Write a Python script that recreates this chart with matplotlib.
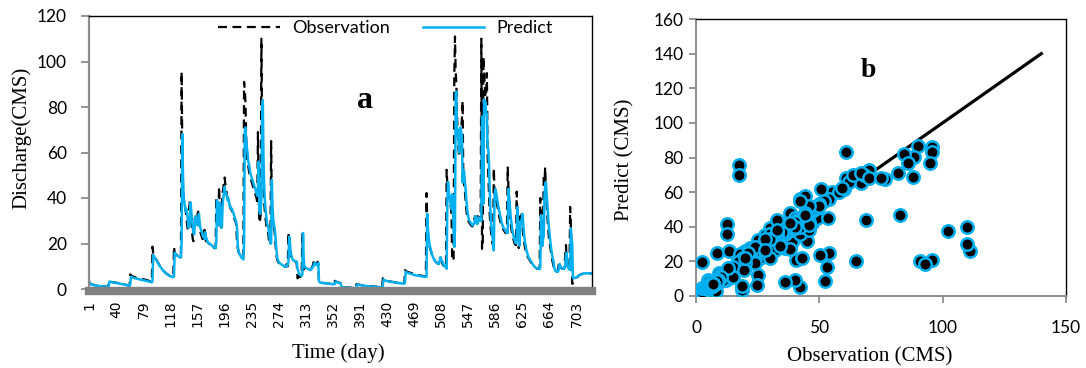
import numpy as np
import matplotlib.pyplot as plt

# daily discharge, day 1..725 (CMS)
obs = [
    3.2, 2.6, 2.3, 2.1, 2.0, 1.9, 1.8, 1.8, 1.7, 1.7,
    1.6, 1.6, 1.5, 1.5, 1.4, 1.4, 1.3, 1.3, 1.3, 1.2,
    1.2, 1.2, 1.1, 1.1, 1.0, 1.0, 1.0, 0.9, 3.6, 3.4,
    3.3, 3.2, 3.1, 3.0, 3.0, 2.9, 2.9, 2.8, 2.8, 2.7,
    2.7, 2.6, 2.6, 2.5, 2.4, 2.4, 2.3, 2.3, 2.2, 2.1,
    2.1, 2.0, 1.9, 1.8, 1.8, 1.7, 1.6, 1.5, 1.5, 6.4,
    6.0, 5.8, 5.6, 5.5, 5.4, 5.3, 5.2, 5.1, 5.0, 5.0,
    4.9, 4.8, 4.7, 4.7, 4.6, 4.5, 4.4, 4.4, 4.3, 4.2,
    4.1, 4.1, 4.0, 3.9, 3.8, 3.7, 3.6, 3.5, 3.4, 3.3,
    3.2, 18.6, 15.5, 15.0, 14.2, 13.8, 13.2, 12.6, 12.0, 11.5,
    11.0, 10.5, 10.0, 9.6, 9.2, 8.8, 8.4, 8.0, 7.7, 7.4,
    7.1, 6.8, 6.6, 6.4, 6.2, 6.0, 5.8, 5.7, 5.6, 5.5,
    5.4, 5.4, 18.6, 16.0, 15.5, 15.2, 15.0, 14.8, 14.6, 14.4,
    14.2, 14.0, 14.2, 95.5, 61, 45, 40, 38, 36, 34,
    31, 28, 26, 30, 36, 39, 35, 30, 25, 22,
    21, 28, 31, 30, 29, 28, 33, 34, 30, 27,
    25, 24, 23, 22, 22, 21, 26, 23, 21, 21,
    21, 20.5, 20, 20, 19.5, 19.5, 19, 19, 18.5, 18.5,
    18, 18, 18, 40.5, 30, 27, 33, 45, 35, 28,
    27, 38, 42, 44, 47, 49, 46, 44, 42, 40,
    38, 37, 37, 36, 35, 35, 34, 33, 32, 31,
    30, 30, 26, 20, 17.8, 16.5, 15.5, 15, 14.5, 14,
    13.5, 13.5, 14, 91, 88, 82, 67, 60, 55, 54,
    52, 50, 49, 48, 47, 46, 45, 44, 43, 42,
    41, 40, 38, 69, 42, 29, 30, 33, 110, 70,
    61, 44, 38, 34, 31, 28, 27, 26, 24, 21,
    19.5, 20, 65, 38, 30, 28, 27, 25, 21, 17,
    14, 12.5, 12, 11.5, 11.2, 11, 10.8, 10.6, 10.4, 10.2,
    10, 10, 9.8, 9.8, 10.7, 11, 10, 25, 20, 17,
    15, 14, 13, 12.5, 12.5, 12.3, 12.2, 12, 12, 11,
    4.7, 5.0, 5.5, 5.4, 5.3, 5.5, 6.0, 24.6, 8.4, 9.5,
    9.0, 9.5, 9.2, 9.0, 9.0, 8.8, 8.6, 8.5, 8.4, 8.5,
    9.0, 9.8, 10.0, 11.5, 12.6, 11.5, 11.0, 10.8, 10.5, 12.0,
    11.0, 2.5, 2.6, 2.8, 2.8, 2.7, 2.7, 2.7, 2.6, 2.6,
    2.6, 2.5, 2.5, 2.5, 2.4, 2.4, 2.4, 2.3, 2.3, 2.3,
    2.2, 2.2, 2.2, 2.2, 3.6, 3.4, 3.2, 3.1, 3.0, 2.9,
    2.8, 2.7, 2.6, 1.0, 0.9, 0.9, 0.8, 0.8, 0.8, 0.7,
    0.7, 0.7, 0.7, 0.6, 0.6, 0.6, 0.6, 0.6, 0.5, 0.5,
    0.5, 0.5, 0.5, 0.5, 0.5, 2.2, 2.1, 2.0, 1.9, 1.9,
    1.8, 1.8, 1.7, 1.7, 1.6, 1.6, 1.5, 1.5, 1.5, 1.4,
    1.4, 1.4, 1.3, 1.3, 1.3, 1.2, 1.2, 1.2, 1.1, 1.1,
    1.1, 1.1, 1.0, 1.0, 1.0, 1.0, 0.9, 0.9, 0.9, 0.9,
    0.8, 0.8, 0.8, 4.7, 4.4, 4.2, 4.0, 3.9, 3.8, 3.7,
    3.6, 3.5, 3.4, 3.3, 3.3, 3.2, 3.2, 3.1, 3.1, 3.0,
    3.0, 2.9, 2.9, 2.8, 2.8, 2.8, 2.7, 2.7, 2.6, 2.6,
    2.6, 2.5, 2.5, 2.5, 2.5, 8.3, 8.0, 7.8, 7.6, 7.5,
    7.4, 7.3, 7.2, 7.1, 7.0, 6.9, 6.8, 6.7, 6.6, 6.5,
    6.4, 6.3, 6.2, 6.2, 6.1, 6.0, 6.0, 5.9, 5.9, 5.8,
    5.8, 5.7, 5.7, 5.6, 5.6, 5.5, 42.2, 30, 24, 21,
    19, 18, 17, 16, 15, 14, 13.5, 13, 12.5, 12,
    11.7, 11.4, 11.2, 11.0, 12, 14, 13, 12.5, 12, 11,
    10.5, 10, 9.8, 9.6, 9.5, 52.4, 46, 44, 42, 40,
    38, 36, 33, 12.4, 12.4, 13.5, 93, 111, 95.5, 90,
    76.6, 68, 62, 58, 63.8, 66.8, 70, 75, 82.7, 50,
    46, 44, 40, 36, 33, 31, 30, 29.5, 29, 28.5,
    28, 28, 27.5, 28, 29, 31, 32, 30, 28, 29,
    32, 31, 30, 31.7, 30, 110, 17.6, 17.6, 102, 95.5,
    88.5, 84.3, 86, 94.9, 59.2, 50.5, 42, 33, 28, 25,
    22, 20, 19, 53.2, 42, 41, 40, 38, 36.5, 35,
    33, 31.5, 30, 29, 28, 27, 26.5, 26, 25.5, 25,
    24.6, 25, 28, 53.8, 45, 40, 33, 29, 27, 25,
    23.5, 22, 21, 20, 19.5, 19.3, 42.8, 30, 22, 18,
    24, 32, 28, 34, 30, 25, 22, 20, 18, 17,
    16, 15, 14, 13.5, 13, 12.5, 12, 11.5, 11, 10.5,
    10, 9.8, 9.5, 9.3, 9.2, 9, 9, 8.8, 8.8, 9,
    40, 25, 18, 20, 30, 50.3, 46, 53.6, 44, 38,
    33, 28, 24, 21, 19, 17, 15, 13, 11.5, 10,
    9, 8.3, 7.8, 7.6, 7.5, 8, 9.5, 12, 10, 9.5,
    9.2, 9, 9, 8.8, 9, 11, 15, 19.3, 13, 10,
    9, 8.8, 8.6, 36.1, 28, 20, 2.3, 2.5, 3.0, 3.5,
    4.0, 4.5, 4.8, 5.2, 5.5, 5.8, 6.0, 6.2, 6.4, 6.5,
    6.6, 6.7, 6.8, 6.9, 6.9, 7.0, 7.0, 7.0, 7.0, 7.0,
    6.9, 6.9, 6.9, 6.8, 6.8,
]

pred = [
    3.0, 2.5, 2.2, 2.0, 1.9, 1.8, 1.7, 1.7, 1.6, 1.6,
    1.5, 1.5, 1.4, 1.4, 1.3, 1.3, 1.2, 1.2, 1.2, 1.1,
    1.1, 1.1, 1.0, 1.0, 1.0, 0.9, 0.9, 0.9, 1.5, 3.3,
    3.2, 3.1, 3.0, 2.9, 2.9, 2.8, 2.8, 2.7, 2.7, 2.6,
    2.6, 2.5, 2.5, 2.4, 2.3, 2.3, 2.2, 2.2, 2.1, 2.0,
    2.0, 1.9, 1.8, 1.8, 1.7, 1.6, 1.6, 1.5, 1.4, 2.0,
    5.4, 5.3, 5.2, 5.0, 4.9, 4.8, 4.7, 4.6, 4.6, 4.5,
    4.4, 4.3, 4.3, 4.2, 4.1, 4.0, 4.0, 3.9, 3.8, 3.8,
    3.7, 3.6, 3.6, 3.5, 3.4, 3.3, 3.3, 3.2, 3.1, 3.0,
    2.9, 3.5, 14.9, 14.5, 14.0, 13.5, 13.0, 12.4, 11.9, 11.3,
    10.8, 10.3, 9.9, 9.5, 9.1, 8.7, 8.3, 7.9, 7.6, 7.3,
    7.0, 6.7, 6.5, 6.3, 6.1, 5.9, 5.7, 5.6, 5.5, 5.4,
    5.3, 5.3, 5.5, 16.0, 15.5, 15.0, 14.8, 14.6, 14.4, 14.2,
    14.0, 13.8, 13.8, 21, 68, 50, 40, 38, 36, 34,
    35, 33, 30, 27, 28, 31, 38, 34, 30, 27,
    25, 24, 29, 32, 31, 29, 28, 31, 33, 29,
    27, 26, 25, 24, 23, 23, 22, 25, 23, 22,
    21, 20.5, 20, 20, 19.8, 19.5, 19.3, 19, 18.7, 18.5,
    18.2, 18, 18, 21, 39, 30, 28, 32, 38, 33,
    29, 27, 36, 40, 42, 45, 42.7, 42, 41, 39,
    40, 39, 37, 36, 36, 35, 35, 34, 33, 32,
    31, 30, 29, 26, 19, 16.5, 15.6, 15, 14.5, 14,
    13.5, 13.3, 13, 20, 69, 71, 65.5, 62, 60, 56,
    55, 53, 51, 50, 49, 48, 47, 46, 45, 44,
    43, 42, 41, 44, 56, 35, 33, 34, 40, 73,
    83, 58, 45, 39, 35, 32, 29, 28, 27, 25,
    22, 20, 20, 48, 36, 31, 28, 27, 24, 20,
    16, 13.5, 12.5, 12, 11.5, 11.2, 11, 10.8, 10.6, 10.4,
    10.2, 10, 10, 9.9, 9.8, 10.5, 10.5, 12, 23, 21,
    17, 15, 14, 13, 12.7, 12.5, 12.3, 12.2, 12, 12,
    9, 8, 7, 6.5, 6.2, 6, 5.8, 6.4, 24.6, 13,
    10, 9.5, 9.3, 9.1, 9, 8.9, 8.7, 8.5, 8.4, 8.3,
    8.6, 9.2, 9.8, 10, 11, 11.5, 11, 10.8, 10.6, 10.5,
    11.5, 3.5, 3.0, 2.8, 2.7, 2.7, 2.6, 2.6, 2.6, 2.5,
    2.5, 2.5, 2.4, 2.4, 2.4, 2.3, 2.3, 2.3, 2.2, 2.2,
    2.2, 2.1, 2.1, 2.1, 2.3, 3.3, 3.1, 3.0, 2.9, 2.8,
    2.7, 2.6, 2.5, 1.4, 0.9, 0.8, 0.8, 0.7, 0.7, 0.7,
    0.6, 0.6, 0.6, 0.6, 0.5, 0.5, 0.5, 0.5, 0.5, 0.4,
    0.4, 0.4, 0.4, 0.4, 0.4, 0.8, 2.0, 1.9, 1.8, 1.8,
    1.7, 1.7, 1.6, 1.6, 1.5, 1.5, 1.4, 1.4, 1.4, 1.3,
    1.3, 1.3, 1.2, 1.2, 1.2, 1.1, 1.1, 1.1, 1.0, 1.0,
    1.0, 1.0, 0.9, 0.9, 0.9, 0.9, 0.8, 0.8, 0.8, 0.8,
    0.7, 0.7, 0.7, 1.5, 4.2, 4.0, 3.8, 3.7, 3.6, 3.5,
    3.4, 3.3, 3.3, 3.2, 3.2, 3.1, 3.1, 3.0, 3.0, 2.9,
    2.9, 2.8, 2.8, 2.7, 2.7, 2.7, 2.6, 2.6, 2.5, 2.5,
    2.5, 2.4, 2.4, 2.4, 2.4, 3.0, 7.6, 7.4, 7.2, 7.1,
    7.0, 6.9, 6.8, 6.7, 6.6, 6.5, 6.4, 6.3, 6.2, 6.1,
    6.0, 6.0, 5.9, 5.9, 5.8, 5.8, 5.7, 5.7, 5.6, 5.6,
    5.5, 5.5, 5.4, 5.4, 5.4, 5.4, 5.4, 33, 27, 23,
    20, 18.6, 17, 16, 15, 14.2, 13.5, 13, 12.5, 12,
    11.8, 11.5, 11.3, 11.1, 11, 12.5, 14, 13, 12.5, 12,
    11, 10.5, 10, 9.8, 9.6, 8.9, 38, 47, 43, 41,
    39, 37, 35, 41.6, 35.8, 26, 18.5, 26.2, 86, 86.8,
    67.4, 70, 66, 60, 70, 71, 68, 68, 46.8, 52,
    52, 48, 45, 41, 37, 34, 32, 30.5, 30, 29.5,
    29, 28.5, 28, 28, 28.5, 29, 31, 32, 30, 28.5,
    29, 31.5, 31, 30, 31, 30, 75.7, 70, 37.5, 83.4,
    80.5, 82, 77, 77, 62.2, 61.6, 55, 44, 35, 29,
    26, 23, 21, 17, 40, 44, 42.7, 41, 39, 37,
    35.5, 34, 32.5, 31, 29.5, 28.5, 27.5, 27, 26.5, 26,
    25.5, 25, 25, 24.6, 44, 40, 37, 33, 30, 27.5,
    25.5, 24, 22.5, 21.5, 20.5, 20, 21.8, 36, 28, 22,
    19, 26.6, 30, 29, 33, 30, 26, 23, 20.5, 19,
    17, 16, 15, 14, 13.5, 13, 12.5, 12, 11.5, 11,
    10.5, 10, 9.8, 9.5, 9.3, 9.2, 9, 9, 8.8, 8.8,
    9.5, 32.5, 24, 19, 22, 23.7, 41, 45, 47, 42,
    38, 33, 28.5, 25, 22, 19.5, 17, 15, 13.5, 12,
    9.5, 8.6, 8, 7.7, 7.6, 7.5, 8, 9.5, 11, 10,
    9.4, 9.1, 9, 9, 8.8, 9, 11, 15, 16, 11,
    9.5, 9, 8.7, 8.3, 26.6, 22, 19.8, 4.8, 4.8, 4.8,
    4.9, 5.0, 5.2, 5.4, 5.6, 5.8, 6.0, 6.2, 6.3, 6.4,
    6.5, 6.6, 6.7, 6.8, 6.8, 6.9, 6.9, 6.9, 6.9, 6.9,
    6.9, 6.8, 6.8, 6.8, 6.7,
]

day_ticks = list(range(1, 704, 39))
line_1to1 = [0, 140]

days = np.arange(1, len(obs) + 1)
blue = "#00B0F0"
sans = "Lato"
serif = "Liberation Serif"

fig = plt.figure(figsize=(10.86, 3.68), dpi=100, facecolor="white")

# ---- a: hydrograph
ax1 = fig.add_axes([89/1086, 1-289/368, 503/1086, 273/368])
ax1.plot(days, obs, color="black", lw=1.6, dashes=(4, 2.5), label="Observation")
ax1.plot(days, pred, color=blue, lw=1.8, label="Predict")
ax1.set_xlim(0.5, len(obs) + 0.5)
ax1.set_ylim(0, 120)
ax1.set_yticks(range(0, 121, 20))
ax1.set_xticks(day_ticks)
ax1.set_xticklabels([str(d) for d in day_ticks])
for t in ax1.get_xticklabels() + ax1.get_yticklabels():
    t.set_family(sans)
    t.set_fontsize(12.5)
ax1.tick_params(axis="x", length=0, pad=7, labelrotation=90)
ax1.tick_params(axis="y", length=6, width=1.3, color="#8c8c8c", pad=10)
ax1.spines["bottom"].set_linewidth(6)
ax1.spines["bottom"].set_color("#808080")
ax1.spines["bottom"].set_position(("outward", 1.5))
ax1.spines["left"].set_linewidth(1.6)
ax1.spines["left"].set_color("#8c8c8c")
for s in ["top", "right"]:
    ax1.spines[s].set_linewidth(1)
    ax1.spines[s].set_color("black")
ax1.set_ylabel("Discharge(CMS)", family=serif, fontsize=15)
ax1.yaxis.set_label_coords(-0.115, 0.553)
ax1.set_xlabel("Time (day)", family=serif, fontsize=15)
ax1.xaxis.set_label_coords(0.495, -0.197)
ax1.text(0.549, 0.692, "a", transform=ax1.transAxes, family=serif,
         fontsize=23, fontweight="bold", ha="center", va="center")
ax1.legend(loc="center", bbox_to_anchor=(0.59, 0.956), ncol=2, frameon=False,
           prop={"family": sans, "size": 13}, handlelength=3.4,
           handletextpad=0.7, columnspacing=1.8, borderpad=0)

# ---- b: scatter
ax2 = fig.add_axes([696/1086, 1-296/368, 370/1086, 277/368])
ax2.plot(line_1to1, line_1to1, color="black", lw=2.3, zorder=2)
ax2.scatter(obs, pred, s=80, c="black", edgecolors=blue, linewidths=1.8, zorder=3)
ax2.set_xlim(0, 150)
ax2.set_ylim(0, 160)
ax2.set_xticks([0, 50, 100, 150])
ax2.set_yticks(range(0, 161, 20))
for t in ax2.get_xticklabels() + ax2.get_yticklabels():
    t.set_family(sans)
    t.set_fontsize(12.5)
ax2.tick_params(length=5, width=1.3, color="#8c8c8c", pad=4)
ax2.tick_params(axis="x", pad=12)
for s in ["bottom", "left"]:
    ax2.spines[s].set_linewidth(1.4)
    ax2.spines[s].set_color("#8c8c8c")
for s in ["top", "right"]:
    ax2.spines[s].set_linewidth(1)
    ax2.spines[s].set_color("black")
ax2.set_ylabel("Predict (CMS)", family=serif, fontsize=15)
ax2.yaxis.set_label_coords(-0.167, 0.491)
ax2.set_xlabel("Observation (CMS)", family=serif, fontsize=15)
ax2.xaxis.set_label_coords(0.47, -0.184)
ax2.text(69.7, 130, "b", family=serif, fontsize=20, fontweight="bold",
         ha="center", va="center")

fig.savefig("out.png", dpi=100, facecolor="white")
